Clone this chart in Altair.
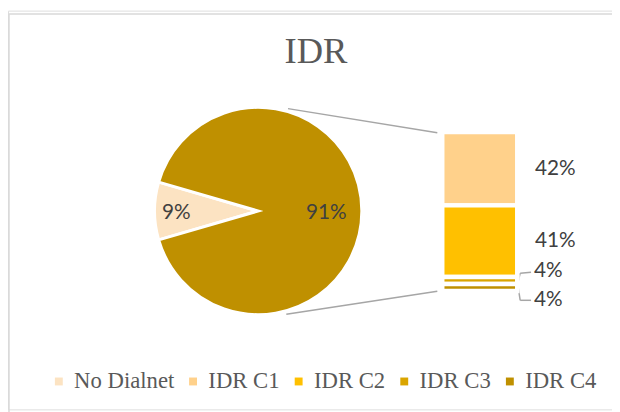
import math
import altair as alt
import pandas as pd

# ---- data ----
pie_cats = ["No Dialnet", "Otros"]
pie_vals = [9, 91]
bar_cats = ["IDR C1", "IDR C2", "IDR C3", "IDR C4"]
bar_vals = [42, 41, 4, 4]
legend_cats = ["No Dialnet", "IDR C1", "IDR C2", "IDR C3", "IDR C4"]
cat_colors = ["#FCE3C2", "#FFD18B", "#FFC000", "#DAA500", "#BF9000", "#BF9000"]
title_text = "IDR"

pie_df = pd.DataFrame({"cat": pie_cats, "val": pie_vals})
bar_df = pd.DataFrame({"cat": bar_cats, "val": bar_vals})
one = pd.DataFrame({"t": [title_text]})

LABEL_FONT = "Lato"
SERIF = "Liberation Serif"
TXT = "#404040"
GRAY = "#A6A6A6"

color_scale = alt.Scale(domain=legend_cats + ["Otros"], range=cat_colors)
legend = alt.Legend(
    values=legend_cats, orient="none", direction="horizontal", title=None,
    legendX=40, legendY=364,
)

start = 1.5 * math.pi - math.pi * pie_vals[0] / 100.0
theta_scale = alt.Scale(domain=[0, 100], range=[start, start + 2 * math.pi])
CX, CY = 253.5, 203

pie_base = (
    alt.Chart(pie_df)
    .transform_stack(stack="val", as_=["s0", "s1"], groupby=[], sort=[alt.SortField("cat")])
    .transform_calculate(mid="(datum.s0 + datum.s1) / 2",
                         lbl="format(datum.val, 'd') + '%'")
)
pie = pie_base.mark_arc(radius=105, stroke="white", strokeWidth=3).encode(
    theta=alt.Theta("s0:Q", scale=theta_scale),
    theta2="s1:Q",
    color=alt.Color("cat:N", scale=color_scale, legend=legend),
    x=alt.value(CX), y=alt.value(CY),
)
pie_lbl_small = pie_base.transform_filter(alt.datum.cat == "No Dialnet").mark_text(
    radius=83, font=LABEL_FONT, fontSize=21, color=TXT, baseline="middle", dy=2
).encode(theta=alt.Theta("mid:Q", scale=theta_scale), text="lbl:N",
         x=alt.value(CX), y=alt.value(CY))
pie_lbl_big = pie_base.transform_filter(alt.datum.cat == "Otros").mark_text(
    radius=69, font=LABEL_FONT, fontSize=21, color=TXT, baseline="middle", dy=2
).encode(theta=alt.Theta("mid:Q", scale=theta_scale), text="lbl:N",
         x=alt.value(CX), y=alt.value(CY))

y_scale = alt.Scale(domain=[0, sum(bar_vals)], range=[284, 123])
bar_base = (
    alt.Chart(bar_df)
    .transform_stack(stack="val", as_=["b0", "b1"], groupby=[],
                     sort=[alt.SortField("cat", order="descending")])
    .transform_calculate(mid="(datum.b0 + datum.b1) / 2",
                         lbl="format(datum.val, 'd') + '%'")
)
bars = bar_base.mark_bar(stroke="white", strokeWidth=4.5).encode(
    x=alt.value(440), x2=alt.value(516),
    y=alt.Y("b0:Q", scale=y_scale, axis=None), y2="b1:Q",
    color=alt.Color("cat:N", scale=color_scale, legend=legend),
)


def bar_label(cats, dy, x):
    return bar_base.transform_filter(
        alt.FieldOneOfPredicate(field="cat", oneOf=cats)
    ).mark_text(align="left", baseline="middle", font=LABEL_FONT, fontSize=21,
                color=TXT, dy=dy).encode(
        x=alt.value(x), y=alt.Y("mid:Q", scale=y_scale, axis=None), text="lbl:N")


lbl_main = bar_label(["IDR C1", "IDR C2"], 0, 534)
lbl_c3 = bar_label(["IDR C3"], -9, 533)
lbl_c4 = bar_label(["IDR C4"], 13, 533)


def seg(x1, y1, x2, y2, color=GRAY, w=1.5):
    return alt.Chart(one).mark_rule(color=color, strokeWidth=w).encode(
        x=alt.value(x1), y=alt.value(y1), x2=alt.value(x2), y2=alt.value(y2))


lines = [
    seg(283.7, 99.3, 435, 123.7),
    seg(282, 307.7, 435, 284.3),
    seg(517, 274, 519, 266), seg(519, 266, 530, 265),
    seg(517, 281, 519, 293.5), seg(519, 293.5, 530, 293.5),
    seg(0.5, 3.5, 700, 3.5, "#D9D9D9", 1.5),
    seg(1, 3.5, 1, 600, "#D9D9D9", 1.5),
]

title = alt.Chart(one).mark_text(font=SERIF, fontSize=37, color="#595959",
                                 baseline="middle").encode(
    text="t:N", x=alt.value(312), y=alt.value(42))

chart = alt.layer(
    *lines, pie, pie_lbl_small, pie_lbl_big, bars, lbl_main, lbl_c3, lbl_c4, title
).properties(
    width=612, height=404, padding=0, autosize=alt.AutoSizeParams(type="none")
).configure_view(stroke=None).configure(background="white").configure_legend(
    symbolType="square", symbolSize=64, symbolStrokeWidth=0,
    labelFont=SERIF, labelFontSize=23, labelColor="#595959",
    labelOffset=4, columnPadding=7, labelLimit=300,
)

chart.save("out.html", embed_options={"renderer": "svg", "actions": False})
